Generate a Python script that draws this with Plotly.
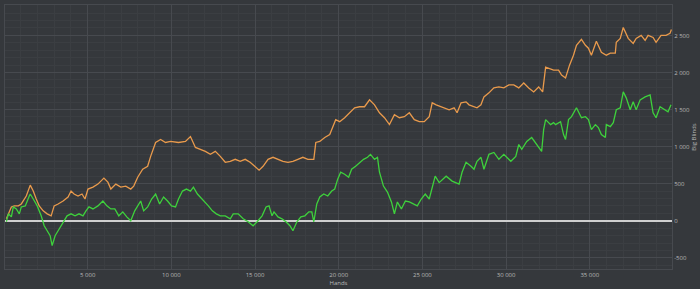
import plotly.graph_objects as go

# Hands / Big Blinds
orange_hands = [143, 262, 440, 618, 856, 1034, 1332, 1569, 1748, 1926, 2105, 2342, 2580, 2818, 2996, 3234, 3531, 3828, 4007, 4185, 4423, 4661, 4840, 5018, 5315, 5612, 5969, 6207, 6385, 6682, 6979, 7276, 7574, 7752, 7990, 8287, 8584, 8763, 9060, 9357, 9654, 9952, 10427, 10843, 11141, 11438, 11735, 12032, 12330, 12627, 12924, 13221, 13519, 13816, 14113, 14410, 14708, 15005, 15243, 15480, 15778, 16075, 16372, 16669, 16967, 17264, 17561, 17858, 18156, 18512, 18631, 18869, 19166, 19464, 19820, 20058, 20355, 20653, 20950, 21247, 21544, 21842, 22139, 22436, 22733, 23031, 23328, 23625, 23922, 24220, 24517, 24814, 25111, 25409, 25587, 25825, 26122, 26300, 26598, 26895, 27073, 27311, 27608, 27787, 28084, 28262, 28500, 28678, 28976, 29273, 29570, 29867, 30165, 30462, 30759, 31056, 31354, 31651, 31948, 32186, 32364, 32543, 32840, 33137, 33316, 33554, 33792, 34029, 34207, 34504, 34742, 34921, 35099, 35396, 35694, 35991, 36229, 36526, 36586, 36823, 37002, 37299, 37596, 37774, 38072, 38309, 38488, 38785, 38963, 39260, 39557, 39795, 39880]
orange_bb = [27, 94, 187, 201, 201, 227, 334, 481, 401, 294, 201, 134, 94, 67, 201, 227, 267, 321, 401, 361, 334, 361, 294, 428, 455, 495, 575, 521, 428, 495, 455, 468, 428, 468, 588, 695, 735, 869, 1056, 1096, 1056, 1070, 1056, 1070, 1136, 989, 963, 936, 896, 936, 869, 789, 802, 829, 802, 829, 789, 722, 682, 735, 829, 856, 829, 802, 789, 802, 829, 856, 829, 829, 1056, 1070, 1123, 1163, 1364, 1337, 1390, 1457, 1524, 1538, 1538, 1631, 1564, 1457, 1390, 1297, 1431, 1390, 1404, 1457, 1364, 1337, 1337, 1404, 1591, 1564, 1538, 1524, 1497, 1524, 1457, 1591, 1604, 1564, 1538, 1524, 1564, 1671, 1725, 1792, 1805, 1792, 1832, 1832, 1792, 1858, 1792, 1738, 1805, 1738, 2072, 2059, 2032, 2032, 1966, 1925, 2099, 2233, 2367, 2447, 2367, 2327, 2233, 2420, 2273, 2233, 2260, 2260, 2407, 2460, 2607, 2460, 2393, 2460, 2500, 2433, 2500, 2473, 2407, 2500, 2500, 2527, 2580]

green_hands = [143, 262, 440, 558, 737, 915, 1034, 1272, 1510, 1569, 1748, 1985, 2223, 2401, 2580, 2758, 2877, 3055, 3234, 3412, 3590, 3769, 4007, 4244, 4482, 4720, 4898, 5077, 5315, 5612, 5909, 6147, 6385, 6622, 6860, 7098, 7336, 7574, 7812, 7990, 8168, 8346, 8584, 8822, 9060, 9298, 9535, 9773, 10011, 10249, 10427, 10665, 10903, 11141, 11319, 11557, 11735, 11973, 12211, 12449, 12687, 12924, 13221, 13519, 13697, 13994, 14292, 14589, 14886, 15124, 15421, 15659, 15837, 16015, 16134, 16372, 16610, 16848, 17086, 17264, 17502, 17740, 17977, 18215, 18393, 18512, 18691, 18869, 19107, 19345, 19583, 19761, 19939, 20118, 20355, 20593, 20771, 21009, 21247, 21485, 21723, 21901, 22139, 22317, 22436, 22674, 22912, 23150, 23328, 23506, 23744, 23982, 24220, 24458, 24695, 24933, 25171, 25409, 25587, 25765, 26003, 26419, 26776, 27192, 27371, 27608, 27906, 28084, 28262, 28500, 28678, 28976, 29273, 29570, 29867, 30284, 30581, 30759, 30937, 31235, 31532, 31829, 32126, 32245, 32364, 32662, 32840, 32959, 33256, 33435, 33554, 33732, 33911, 34207, 34504, 34742, 34921, 35099, 35337, 35515, 35694, 35932, 35991, 36229, 36407, 36586, 36823, 37002, 37180, 37418, 37596, 37774, 38012, 38309, 38607, 38785, 38963, 39201, 39498, 39676, 39855]
green_bb = [-13, 94, 53, 187, 160, 94, 187, 201, 334, 361, 294, 201, 67, -67, -134, -201, -334, -201, -134, -67, -13, 67, 94, 67, 94, 67, 134, 187, 160, 201, 267, 201, 160, 160, 67, 120, 53, 0, 134, 201, 267, 134, 187, 294, 361, 227, 321, 267, 201, 187, 294, 401, 428, 401, 455, 361, 321, 254, 201, 134, 94, 67, 67, 27, 94, 94, 27, -13, -67, -13, 67, 187, 201, 67, 120, 53, 27, -13, -67, -134, -13, 53, 67, 120, 120, -13, 227, 321, 361, 334, 401, 428, 562, 655, 628, 588, 695, 735, 789, 829, 856, 896, 829, 856, 655, 468, 388, 254, 94, 254, 160, 267, 254, 227, 201, 294, 361, 294, 455, 602, 515, 602, 535, 495, 655, 789, 735, 695, 802, 856, 695, 896, 922, 829, 896, 802, 869, 1029, 963, 1070, 1123, 1029, 936, 1230, 1364, 1297, 1324, 1297, 1337, 1163, 1096, 1364, 1404, 1524, 1390, 1404, 1364, 1230, 1297, 1257, 1163, 1123, 1297, 1270, 1324, 1497, 1524, 1738, 1658, 1497, 1604, 1497, 1631, 1671, 1698, 1457, 1390, 1537, 1497, 1471, 1564]

x_tickvals = [5000, 10000, 15000, 20000, 25000, 30000, 35000]
x_ticktext = ["5 000", "10 000", "15 000", "20 000", "25 000", "30 000", "35 000"]
y_tickvals = [-500, 0, 500, 1000, 1500, 2000, 2500]
y_ticktext = ["-500", "0", "500", "1 000", "1 500", "2 000", "2 500"]

BG = "#35383c"
GRID = "#474a4f"
MINOR = "#3b3e42"
TXT = "#b8b8b8"

fig = go.Figure()
fig.add_trace(go.Scatter(x=orange_hands, y=orange_bb, mode="lines",
                         line=dict(color="#e99a4c", width=1.3), showlegend=False))
fig.add_trace(go.Scatter(x=green_hands, y=green_bb, mode="lines",
                         line=dict(color="#3ed13c", width=1.3), showlegend=False))

fig.update_layout(
    width=700, height=289,
    margin=dict(l=4, r=26, t=4, b=18),
    paper_bgcolor=BG, plot_bgcolor=BG,
    font=dict(family="Open Sans, sans-serif", size=6, color=TXT),
)
fig.update_xaxes(
    range=[60, 39915], tickvals=x_tickvals, ticktext=x_ticktext,
    showgrid=True, gridcolor=GRID, gridwidth=1,
    minor=dict(dtick=1000, showgrid=True, gridcolor=MINOR, gridwidth=1),
    showline=True, linecolor=GRID, mirror=True, zeroline=False,
    ticks="", tickfont=dict(size=6, color=TXT),
    title=dict(text="Hands", font=dict(size=6, color=TXT), standoff=2),
)
fig.update_yaxes(
    range=[-650, 2910], side="right", tickvals=y_tickvals, ticktext=y_ticktext,
    showgrid=True, gridcolor=GRID, gridwidth=1,
    minor=dict(dtick=100, showgrid=True, gridcolor=MINOR, gridwidth=1),
    showline=True, linecolor=GRID, mirror=True,
    zeroline=True, zerolinecolor="#cfcfcf", zerolinewidth=2,
    ticks="", tickfont=dict(size=6, color=TXT),
    title=dict(text="Big Blinds", font=dict(size=6, color=TXT), standoff=2),
)
fig.write_html("out.html")
